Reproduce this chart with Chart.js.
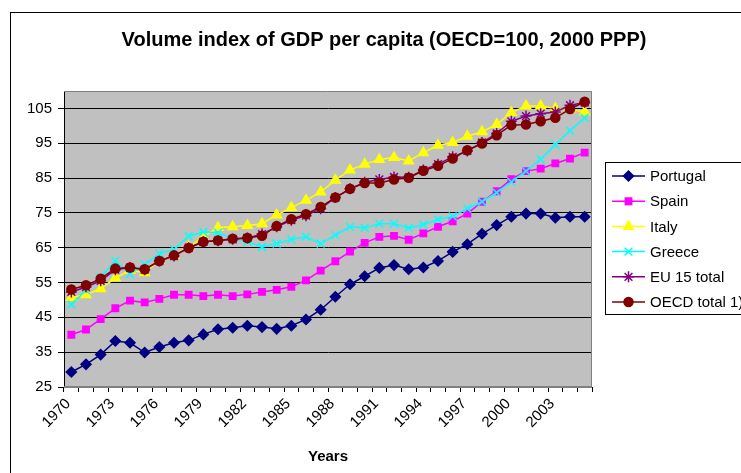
<!DOCTYPE html>
<html>
<head>
<meta charset="utf-8">
<title>Volume index of GDP per capita</title>
<script src="https://cdn.jsdelivr.net/npm/chart.js@4.4.1/dist/chart.umd.min.js"></script>
<style>
  html, body { margin: 0; padding: 0; background: #fff; }
  #wrap { width: 741px; height: 473px; }
</style>
</head>
<body>
<div id="wrap"><canvas id="chart-gdp" width="741" height="473"></canvas></div>
<script>
// Datos (índice OCDE = 100)
const years = [];
for (let y = 1970; y <= 2005; y++) years.push(String(y));

const yTicks = [25, 35, 45, 55, 65, 75, 85, 95, 105];

const portugal = [29.3, 31.5, 34.3, 38.2, 37.7, 34.9, 36.5, 37.7, 38.4, 40.1, 41.6, 42.0,
  42.6, 42.2, 41.7, 42.6, 44.4, 47.2, 50.9, 54.5, 56.8, 59.2, 60.0, 58.8,
  59.3, 61.2, 63.8, 66.0, 69.0, 71.5, 73.9, 74.8, 74.8, 73.6, 73.9, 73.9];
const spain = [40.0, 41.5, 44.5, 47.6, 49.8, 49.3, 50.3, 51.5, 51.5, 51.1, 51.5, 51.1,
  51.6, 52.3, 52.9, 53.8, 55.6, 58.4, 61.1, 63.9, 66.4, 68.1, 68.4, 67.3,
  69.1, 71.0, 72.6, 74.8, 78.2, 81.2, 84.7, 87.0, 87.7, 89.2, 90.6, 92.3];
const italy = [50.7, 51.5, 53.2, 56.3, 58.5, 57.8, 61.4, 62.8, 65.2, 68.1, 70.8, 71.0,
  71.4, 71.9, 74.4, 76.5, 78.6, 81.0, 84.4, 87.3, 89.0, 90.3, 90.9, 89.9,
  92.3, 94.4, 95.2, 97.0, 98.3, 100.4, 103.8, 105.7, 105.7, 105.0, 104.8, 104.0];
const greece = [48.7, 52.8, 56.6, 61.2, 57.4, 60.2, 63.3, 64.5, 68.3, 69.5, 69.3, 67.6,
  66.7, 65.2, 66.2, 67.4, 68.1, 66.2, 68.6, 71.0, 70.7, 71.9, 71.9, 70.7,
  71.6, 73.1, 74.0, 76.2, 78.2, 80.8, 83.9, 87.0, 90.4, 94.6, 98.6, 102.3];
const eu15 = [52.3, 53.7, 55.5, 58.7, 59.3, 58.7, 61.2, 62.6, 65.0, 66.7, 67.0, 67.4,
  67.8, 68.9, 71.0, 72.9, 74.2, 76.2, 79.4, 81.9, 83.8, 84.6, 85.3, 85.2,
  87.3, 89.0, 91.1, 92.8, 95.2, 97.8, 101.3, 102.8, 103.5, 104.0, 105.9, 106.7];
const oecd = [53.0, 54.2, 56.1, 59.0, 59.3, 58.8, 61.2, 62.8, 64.9, 66.7, 67.1, 67.6,
  67.8, 68.4, 71.2, 73.2, 74.6, 76.7, 79.4, 81.9, 83.6, 83.6, 84.6, 85.1,
  87.1, 88.5, 90.6, 93.0, 94.9, 97.3, 100.2, 100.4, 101.3, 102.3, 104.8, 106.9];

const FONT = "'Liberation Sans', Arial, sans-serif";

function serie(label, data, color, style, radius, order) {
  return {
    label, data, order,
    borderColor: color,
    backgroundColor: color,
    borderWidth: 1.5,
    pointStyle: style,
    pointRadius: radius,
    pointHoverRadius: radius,
    pointBorderColor: color,
    pointBackgroundColor: color,
    pointBorderWidth: 1.5,
    tension: 0
  };
}

const datasets = [
  serie('Portugal', portugal, '#000080', 'rectRot', 5, 5),
  serie('Spain', spain, '#FF00FF', 'rect', 4.5, 4),
  serie('Italy', italy, '#FFFF00', 'triangle', 5.5, 3),
  serie('Greece', greece, '#00FFFF', 'crossRot', 5.5, 2),
  serie('EU 15 total', eu15, '#800080', 'star', 5.5, 1),
  serie('OECD total 1)', oecd, '#800000', 'circle', 4.5, 0)
];

// Fondo gris del área de trazado, marco exterior y título
const frame = {
  id: 'frame',
  beforeDraw(chart) {
    const { ctx, chartArea: a } = chart;
    ctx.save();
    ctx.fillStyle = '#fff';
    ctx.fillRect(0, 0, chart.width, chart.height);
    ctx.strokeStyle = '#000';
    ctx.lineWidth = 1;
    ctx.strokeRect(10.5, 12.5, 800, 600);
    ctx.fillStyle = '#C0C0C0';
    ctx.fillRect(a.left, a.top, a.right - a.left, a.bottom - a.top);
    ctx.fillStyle = '#000';
    ctx.font = 'bold 20px ' + FONT;
    ctx.textAlign = 'center';
    ctx.textBaseline = 'middle';
    ctx.fillText('Volume index of GDP per capita (OECD=100, 2000 PPP)', 384, 40);
    ctx.restore();
  },
  afterDatasetsDraw(chart) {
    const { ctx, chartArea: a } = chart;
    ctx.save();
    ctx.strokeStyle = '#808080';
    ctx.lineWidth = 1;
    ctx.beginPath();
    ctx.moveTo(a.left, a.top + 0.5);
    ctx.lineTo(a.right - 0.5, a.top + 0.5);
    ctx.lineTo(a.right - 0.5, a.bottom);
    ctx.stroke();
    ctx.lineWidth = 2;
    ctx.beginPath();
    ctx.moveTo(a.left, a.bottom);
    ctx.lineTo(a.right, a.bottom);
    ctx.stroke();
    ctx.restore();
  }
};

// Leyenda a la derecha (cortada por el borde como en el original)
const legendBox = {
  id: 'legendBox',
  afterDraw(chart) {
    const { ctx } = chart;
    ctx.save();
    ctx.fillStyle = '#fff';
    ctx.fillRect(605.5, 162.5, 200, 152);
    ctx.strokeStyle = '#000';
    ctx.lineWidth = 1;
    ctx.strokeRect(605.5, 162.5, 200, 152);
    ctx.font = '15px ' + FONT;
    ctx.textAlign = 'left';
    ctx.textBaseline = 'middle';
    chart.data.datasets.forEach((ds, i) => {
      const y = 176 + i * 25.2;
      ctx.strokeStyle = ds.borderColor;
      ctx.lineWidth = 1.5;
      ctx.beginPath();
      ctx.moveTo(612, y);
      ctx.lineTo(645, y);
      ctx.stroke();
      Chart.helpers.drawPoint(ctx, {
        pointStyle: ds.pointStyle,
        radius: ds.pointRadius,
        borderWidth: 1.5,
        rotation: 0
      }, 628.5, y);
      ctx.fillStyle = ds.borderColor;
      ctx.strokeStyle = ds.borderColor;
      ctx.fill();
      ctx.fillStyle = '#000';
      ctx.fillText(ds.label, 650, y + 1);
    });
    ctx.restore();
  }
};

new Chart(document.getElementById('chart-gdp'), {
  type: 'line',
  data: { labels: years, datasets },
  plugins: [frame, legendBox],
  options: {
    responsive: false,
    animation: false,
    layout: { padding: { left: 0, top: 91, right: 149, bottom: 0 } },
    plugins: { legend: { display: false }, tooltip: { enabled: false } },
    scales: {
      x: {
        type: 'category',
        offset: true,
        afterFit(scale) { scale.height = 86; },
        grid: {
          offset: true,
          drawOnChartArea: false,
          drawTicks: true,
          tickLength: 5,
          color: '#000'
        },
        border: { display: false },
        ticks: {
          autoSkip: false,
          minRotation: 45,
          maxRotation: 45,
          padding: 3,
          labelOffset: -3,
          color: '#000',
          font: { family: FONT, size: 15 },
          callback(val, i) { return i % 3 === 0 ? years[i] : ''; }
        },
        title: {
          display: true,
          text: 'Years',
          color: '#000',
          font: { family: FONT, size: 15, weight: 'bold' },
          padding: { top: 0, bottom: 7 }
        }
      },
      y: {
        min: 25,
        max: 110,
        afterFit(scale) { scale.width = 64; },
        afterBuildTicks(scale) { scale.ticks = yTicks.map(v => ({ value: v })); },
        grid: { color: '#000', lineWidth: 1, tickLength: 6 },
        border: { color: '#000', width: 1 },
        ticks: {
          padding: 6,
          color: '#000',
          font: { family: FONT, size: 15 }
        }
      }
    }
  }
});
</script>
</body>
</html>
